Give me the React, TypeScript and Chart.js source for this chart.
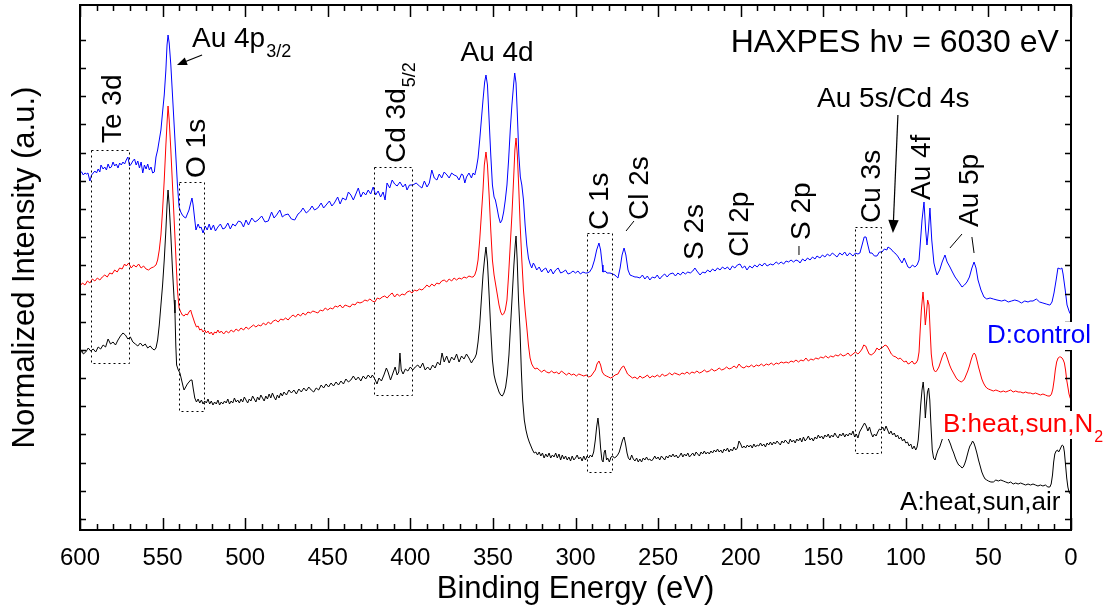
import React, { useEffect, useRef } from "react";
import { Chart, registerables } from "chart.js";

Chart.register(...registerables);

// Binding energy (eV) / normalized intensity (offset, arbitrary units)
const SERIES_D_CONTROL: [number, number][] = [
  [600,359],[599,358],[598,355],[597,357],[596,356],[595.2,357],[594,349],[593,355],[592,357],[591,359],
  [590,357],[589,361],[588,358],[587.3,365],[586,361],[585,363],[584,360],[583,366],[582,362],[581,363],
  [580,368],[579,364],[578,366],[577,362],[576,367],[575,365],[574,368],[573,366],[572,370],[571,373],
  [570,364],[569,366],[568,369],[567,371],[566,365],[565,369],[564,362],[563,368],[562,357],[561,365],
  [560,361],[559,366],[558,360],[557,363],[556,357],[555,358],[554,373],[553,380],[552,390],[551,400],
  [550,418],[549,435],[548,460],[547.3,485],[546.7,495],[546,487],[545,465],[544,435],[543,405],[542,375],
  [541,345],[540,323],[539,318],[538,315],[537,313],[536,312],[535,316],[534,320],[533,327],[532.2,332],
  [531.5,325],[530.5,310],[529.8,300],[528.5,306],[527.5,302],[526.7,303],[525.5,297],[524.2,304],[523,300],[521.8,306],
  [520.7,300],[519.2,305],[518,299],[516.5,303],[515,306],[513.5,301],[512.2,302],[510.5,307],[509,301],[507.5,306],
  [506,304],[504,309],[502.5,308],[501,303],[499.5,310],[498,305],[496,312],[494,308],[492.2,310],[490,314],
  [488,308],[486,309],[484,318],[482.5,312],[481,315],[479,320],[477.5,313],[476,315],[474,316],[472,311],
  [470,310],[468,316],[466.5,318],[465,322],[463,317],[461,320],[459.5,324],[458,320],[456,322],[454,327],
  [452.5,322],[451,325],[449,329],[447.5,324],[446,327],[444,333],[442.5,326],[441,332],[439,330],[437.5,338],
  [436,335],[434.5,330],[433,336],[431.5,342],[430,333],[428.5,338],[427,335],[425.5,340],[424,336],[422.5,343],
  [421,335],[419.5,339],[418,333],[416.5,338],[415.3,330],[414.1,347],[412.5,342],[411,350],[409.5,346],[408,344],
  [406.3,348],[404.5,343],[403,346],[402,340],[400.5,345],[398.4,345],[396.5,347],[394.5,344],[393,342],[391.5,349],
  [389.9,343],[388.5,347],[387,360],[385.5,352],[383.9,350],[382.5,356],[381,352],[379.5,358],[377.8,355],[376.5,352],
  [375,357],[373.5,355],[372,354],[370.5,350],[369,356],[368.1,355],[367,347],[366,353],[364.5,357],[363,352],
  [362,357],[361,355],[360,362],[359,372],[358,390],[357,410],[356,430],[355,448],[354.2,455],[353.3,445],
  [352.3,410],[351.3,375],[350.3,345],[349.3,333],[348.5,330],[347.5,322],[346.5,313],[345.5,307],[344.5,310],[343.5,318],
  [342.5,330],[341.5,345],[340.5,370],[339.5,400],[338.5,425],[337.5,445],[336.8,457],[336,447],[335.2,415],[334.3,375],
  [333.4,353],[332.5,345],[331.5,330],[330.5,305],[329.5,285],[328.5,272],[327.5,266],[326.5,262],[325.5,267],[324.5,264],
  [323.5,260],[322,263],[320.5,258],[319.7,260],[318,262],[316.5,257],[315,261],[313.5,256],[312,260],[310.5,262],
  [309,257],[307.6,258],[306,260],[304.5,256],[303,257],[301.5,259],[300,257],[298.5,259],[297,256],[295.5,258],
  [294,257],[293,257],[291.5,258],[290,262],[288.5,270],[287.2,280],[285.8,287],[284.8,280],[283.8,265],[283.4,258],
  [282,259],[281,257],[279.1,257],[277.5,256],[276.1,255],[275,253],[274.3,252],[273,262],[271.8,275],[270.6,282],
  [269.5,275],[268.2,260],[267,255],[265.5,254],[264,253],[262.8,253],[261,252],[259.5,255],[258,251],[256.5,254],
  [255,250],[253.5,253],[251.9,252],[250.5,255],[249,251],[247.5,254],[246,256],[244.5,253],[243,256],[241,257],
  [239.5,254],[238,257],[236.5,255],[235,258],[233.5,256],[232,258],[230.5,257],[229,259],[227.7,262],[226.5,259],
  [224.6,255],[223,258],[221.5,257],[220,260],[218.5,258],[217,261],[215.5,259],[214,262],[212.5,260],[211,263],
  [209.5,261],[208,263],[206.5,260],[205,264],[203.5,262],[202,265],[200.4,266],[199,262],[197.5,264],[196.2,260],
  [194.5,264],[193,262],[191.5,265],[190,263],[188.5,266],[187,264],[185.5,267],[184,264],[182,266],[180.4,265],
  [178.5,268],[177,266],[175.5,268],[174,266],[172.5,269],[171,268],[169.5,270],[168,268],[166.5,270],[165,269],
  [164.1,267],[162.5,271],[161,269],[159.5,272],[158,270],[156.5,273],[155,271],[153.8,274],[152,272],[150.5,275],
  [149,273],[147.5,276],[146,274],[144.5,277],[143,275],[141.7,273],[140,277],[138.5,275],[137,278],[135.5,274],
  [134,277],[132,274],[130.5,277],[129,276],[127.8,277],[126.5,285],[125.2,293],[124.1,293],[123,285],[121.8,277],
  [120.5,277],[119,274],[117.5,274],[116,278],[114.4,278],[113,281],[111.5,280],[110.8,283],[109,281],[107.5,278],
  [106.6,277],[105,274],[103.5,270],[102.3,267],[101,272],[100,268],[98.7,263],[97.5,262],[96,265],[94.5,263],
  [93.2,265],[92,270],[91.4,283],[90.2,310],[89,328],[88,300],[87.2,285],[86.3,300],[85.4,322],[84.3,290],
  [83,267],[82,260],[81.1,255],[79.5,260],[78,268],[76.3,275],[75,268],[73.3,263],[71.8,258],[70.2,253],
  [68,248],[66,243],[64.5,245],[63,248],[61.5,253],[60,262],[58.7,268],[57.5,262],[56.3,250],[54.5,240],
  [52.7,233],[51,231],[49,232],[47,231],[44.8,230],[42,229],[40,230],[38,228],[36,229],[34,230],
  [32,229],[30,227],[28,229],[26,228],[24.8,229],[23,229],[21,231],[19,228],[17,227],[15,226],
  [13,225],[12.7,225],[11.5,228],[10.3,237],[9,250],[7.9,262],[6.5,261],[5.5,262],[4.8,256],[3.5,240],
  [2.4,225],[1,218],[0,215],
];

const SERIES_B_HEAT_SUN_N2: [number, number][] = [
  [600,244],[598.5,247],[597,245],[595.5,249],[594,247],[592.5,251],[591,249],[589.5,252],[588,250],[586.5,253],
  [585,255],[583.5,253],[582,257],[580.5,256],[579,260],[577.5,258],[576,262],[574.5,261],[573,266],[572,264],
  [570.5,267],[569,262],[567.5,265],[566,263],[564.5,266],[563,262],[561.5,264],[560,261],[558.5,260],[557,262],
  [555.5,263],[554,265],[553,270],[552,280],[551,295],[550,320],[549,350],[548,385],[547.2,410],[546.7,424],
  [546,410],[545,380],[544,345],[543,310],[542,275],[541,240],[540,222],[539,218],[538,215],[537,214],
  [536,216],[535,215],[534,218],[533,220],[532.5,217],[531.5,212],[530.5,207],[529.5,203],[528.5,204],[527.5,200],
  [526.5,201],[525.5,198],[524.5,200],[523.5,197],[522.5,199],[521.5,196],[520.5,198],[519.5,195],[518.5,198],[517.5,197],
  [516.5,200],[515.5,197],[514.5,199],[513,196],[511.5,199],[510,197],[508.5,200],[507,198],[505.5,201],[504,199],
  [502.5,202],[501,200],[499.5,203],[498,201],[496.5,203],[495,205],[493.5,203],[492,205],[490.5,204],[489,207],
  [487.5,205],[486,208],[484.5,206],[483,209],[481.5,210],[480,208],[478.5,211],[477,210],[475.5,212],[474,210],
  [472.5,213],[471,215],[469.5,213],[468,216],[466.5,214],[465,217],[463.5,215],[462,218],[460.5,217],[459,219],
  [457.5,218],[456,217],[454.5,220],[453,219],[451.5,222],[450,220],[448.5,222],[447,221],[445.5,224],[444,223],
  [442.5,225],[441,222],[439.5,225],[438,224],[436.5,223],[435,226],[433.5,225],[432,228],[430.5,227],[429,228],
  [427.5,230],[426,229],[424.5,231],[423,229],[421.5,228],[420,232],[418.5,231],[417,233],[415.5,234],[414,232],
  [412.5,235],[411,237],[409.5,233],[408,236],[406.5,234],[405,236],[403.5,235],[402,238],[400.5,239],[399,237],
  [397.5,240],[396,239],[394.5,241],[393,240],[391.5,242],[390,245],[388.5,243],[387,246],[385.5,244],[384,247],
  [382.5,246],[381,249],[379.5,250],[378,248],[376.5,251],[375,249],[373.5,252],[372,250],[370.5,252],[369,251],
  [367.5,253],[366,252],[364.5,254],[363,253],[362,253],[361,255],[360,260],[359,270],[358,290],[357,315],
  [356,340],[355.2,365],[354.2,378],[353.3,365],[352.3,335],[351.3,300],[350.3,270],[349.3,255],[348.3,245],[347.3,235],
  [346.3,225],[345.3,218],[344.4,215],[343.5,216],[342.5,220],[341.5,230],[340.5,255],[339.5,285],[338.5,315],[337.5,350],
  [336.7,380],[336,392],[335.2,375],[334.3,340],[333.5,305],[332.5,270],[331.5,240],[330.5,220],[329.5,203],[328.5,185],
  [327.5,172],[326.5,166],[325.5,163],[324.5,161],[323.3,162],[322,160],[320.5,158],[319,160],[317.5,158],[316,157],
  [314.5,159],[313,157],[311.5,158],[310,156],[308.5,159],[307,157],[305.5,155],[304,157],[302.5,155],[301,156],
  [299.5,154],[298,156],[296.5,155],[295,154],[293.5,155],[292,153],[290.5,154],[289.3,157],[288,160],[287,166],
  [285.8,169],[284.8,165],[283.8,158],[282.5,155],[281.3,154],[280,153],[278.8,152],[277.5,153],[276,155],[274.3,156],
  [273,160],[271.8,163],[270.8,164],[269.6,160],[268.5,156],[267,154],[265.5,152],[264,153],[262.5,151],[261,154],
  [259.5,152],[258,153],[256.5,155],[255,152],[253.5,154],[252,153],[250.5,155],[249,153],[247.5,156],[246,154],
  [244.5,155],[243,157],[241.5,155],[240,157],[238.5,156],[237,155],[235.5,157],[234,156],[232.5,158],[231,156],
  [229.5,158],[228,157],[226.5,159],[225,157],[223.5,158],[222,160],[220.5,158],[219,159],[217.5,161],[216,159],
  [214.5,160],[213,162],[211.5,160],[210,161],[208.5,163],[207,161],[205.5,162],[204,164],[202.5,162],[201,166],
  [199.5,163],[198,162],[196.5,164],[195,163],[193.5,165],[192,163],[190.5,165],[189,164],[187.5,166],[186,164],
  [184.5,166],[183,165],[181.5,167],[180,165],[178.5,167],[177,166],[175.5,168],[174,167],[172.5,168],[171,167],
  [169.5,169],[168,168],[166.5,170],[165,168],[163.5,170],[162,169],[160.5,172],[159,169],[157.5,171],[156,170],
  [154.5,172],[153,171],[151.5,173],[150,172],[148.5,174],[147,172],[145.5,174],[144,173],[142.5,175],[141,174],
  [139.5,176],[138,174],[136.5,175],[135,177],[133.5,174],[132,176],[130.5,178],[129,176],[127.8,178],[126.5,181],
  [125.5,185],[124.3,184],[123.3,180],[122.2,176],[121,175],[120,176],[118.8,178],[117.5,182],[116.2,180],[115,182],
  [113.8,183],[112.6,185],[111.4,184],[110,180],[108.8,176],[107.5,174],[106,173],[104.6,171],[103.4,172],[102.2,170],
  [101,168],[99.8,169],[98.6,166],[97.4,167],[96.2,169],[95,166],[93.8,167],[92.8,170],[92,178],[91.3,200],
  [90.6,220],[89.6,238],[88.8,222],[88.2,205],[87.6,215],[86.8,230],[86,225],[85.3,200],[84.6,176],[83.8,165],
  [83,160],[82,158],[81,160],[80,163],[79,168],[78,173],[77,177],[76.3,178],[75.5,175],[74.5,170],
  [73.5,165],[72.5,161],[71.5,158],[70.5,155],[69.5,152],[68.5,150],[67.5,149],[66.5,148],[65.5,149],[64.5,151],
  [63.5,155],[62.5,159],[61.5,164],[60.5,170],[59.5,175],[58.6,177],[57.8,175],[57,170],[56,163],[55,157],
  [54,151],[53,147],[52,144],[51,142],[50,141],[48.5,140],[47,139],[45.5,140],[44,139],[42.5,138],
  [41,139],[39.5,138],[38,139],[36.5,140],[35,138],[33.5,139],[32,138],[30.5,138],[29,137],[27.5,138],
  [26,137],[24.5,137],[23,136],[21.5,137],[20,136],[18.5,135],[17,136],[15.5,135],[14,134],[12.7,134],
  [11.8,136],[11,141],[10.2,150],[9.5,160],[8.7,168],[7.8,172],[7,173],[6.2,173],[5.4,172],[4.7,170],
  [4,167],[3.3,160],[2.6,150],[1.9,143],[1.2,136],[0.5,132],[0,130],
];

const SERIES_A_HEAT_SUN_AIR: [number, number][] = [
  [600,175],[599,180],[598,176],[596.5,178],[595,182],[593.5,179],[592,181],[590.5,178],[589,183],[587.5,181],
  [586,185],[584.5,183],[583,191],[581.5,186],[580,188],[578.5,185],[577,190],[575.5,194],[574,197],[572.5,195],
  [571,191],[569.5,193],[568,188],[566.5,186],[565,184],[563.5,187],[562,184],[560.5,186],[559,182],[557.5,184],
  [556,181],[555,180],[554,182],[553,190],[552,205],[551,225],[550,245],[549,270],[548,300],[547.3,325],
  [546.7,340],[546,325],[545,295],[544,260],[543,230],[542.5,217],[542,185],[541.5,165],[540.5,160],[539.5,157],
  [538.5,150],[537.5,143],[537,140],[536,143],[535,146],[534,148],[533,150],[532.2,150],[531.5,142],[530.5,132],
  [529.5,128],[528.5,131],[527.5,127],[526.5,130],[525.5,126],[524.5,129],[523.5,127],[522.5,131],[521.5,126],[520.5,129],
  [519.5,125],[518.5,128],[517.5,126],[516.5,130],[515.5,125],[514.5,128],[513.5,126],[512.5,129],[511.5,127],[510.5,131],
  [509.5,126],[508.5,129],[507.5,127],[506.5,132],[505.5,128],[504.5,130],[503.5,127],[502.5,131],[501.5,128],[500.5,133],
  [499.5,130],[498.5,127],[497.5,131],[496.5,129],[495.5,134],[494.5,131],[493.5,128],[492.5,133],[491.5,130],[490.5,135],
  [489.5,132],[488.5,129],[487.5,134],[486.5,131],[485.5,136],[484.5,132],[483.5,137],[482.5,133],[481.5,130],[480.5,135],
  [479.5,132],[478.5,137],[477.5,134],[476.5,138],[475,135],[473.5,140],[472,137],[470.5,140],[469,136],[467.5,141],
  [466,138],[464.5,142],[463,139],[461.5,143],[460,140],[458.5,138],[457,142],[455.5,140],[454,145],[452.5,142],
  [451,146],[449.5,143],[448,147],[446.5,144],[445,148],[443.5,145],[442,149],[440.5,146],[439,151],[437.5,148],
  [436,150],[434.5,154],[433,150],[431.5,153],[430,149],[428.5,154],[427,151],[425.5,155],[424,152],[423,155],
  [421.5,151],[420.2,146],[419,152],[417.5,149],[416,155],[414.5,162],[413.5,158],[412,150],[410.5,157],[409.2,163],
  [408,155],[407,158],[406.3,177],[405.5,160],[404.4,156],[403,161],[401.5,159],[400,163],[398.5,160],[397,163],
  [395.5,165],[394,162],[392.5,167],[391,160],[389.5,163],[388,160],[386.5,165],[385,162],[383.5,168],[382,165],
  [380.8,177],[379.5,168],[378,174],[376.5,167],[375,173],[373.5,170],[372,176],[370.5,168],[369,174],[367.5,171],
  [366,176],[364.5,172],[363,167],[362,170],[361,172],[360,176],[359,188],[358,205],[357,230],[356,255],
  [355,272],[354.2,283],[353.3,268],[352.3,235],[351.3,200],[350.3,170],[349.3,155],[348.3,148],[347.3,143],[346.3,138],
  [345.3,135],[344.3,134],[343.3,137],[342.3,143],[341.3,155],[340.3,175],[339.3,205],[338.3,235],[337.3,265],[336.5,285],
  [336,294],[335.3,270],[334.5,230],[333.6,200],[332.8,160],[332,130],[331,110],[330,100],[329,93],[328,88],
  [327,84],[326,80],[325,77],[324,78],[323,75],[322,78],[321,74],[320,77],[319,72],[318,76],
  [317,73],[316,77],[315,72],[314,75],[313,73],[312,77],[311,72],[310,76],[309,70],[308,75],
  [307,71],[306,74],[305,70],[304,73],[303,69],[302,74],[301,70],[300,72],[299,75],[298,71],
  [297,73],[296,69],[295,74],[294,70],[293,74],[292,72],[291,75],[290,73],[289,78],[288,90],
  [287.2,103],[286.4,112],[285.6,100],[284.8,82],[284,70],[283.3,68],[282.6,78],[282,80],[281.2,70],[280.5,72],
  [279.5,68],[278.5,73],[277.5,74],[276.5,72],[275.5,73],[274.5,75],[273.5,78],[272.5,84],[271.5,90],[270.6,93],
  [269.7,86],[268.8,77],[268,72],[267,70],[266,75],[265,71],[264,69],[263,72],[262,68],[261,71],
  [260,68],[259,72],[258,70],[257,73],[256,70],[255,71],[254,69],[253,71],[252,74],[251,71],
  [250,73],[249,70],[248,74],[247,72],[246,70],[245,74],[244,72],[243,75],[242,73],[241,76],
  [240,73],[239,75],[238,72],[237,74],[236,77],[235,73],[234,76],[233,74],[232,77],[231,73],
  [230,75],[229,77],[228,74],[227,78],[226,76],[225,74],[224,78],[223,76],[222,79],[221,76],
  [220,78],[219,76],[218,79],[217,77],[216,80],[215,78],[214,81],[213,78],[212,80],[211,77],
  [210,81],[209,79],[208,82],[207,78],[206,81],[205,79],[204,83],[203,80],[202,82],[201,89],
  [200,86],[199,82],[198,84],[197,82],[196,85],[195,83],[194,85],[193,82],[192,86],[191,83],
  [190,85],[189,84],[188,87],[187,84],[186,86],[185,83],[184,87],[183,85],[182,88],[181,85],
  [180,88],[179,86],[178,89],[177,87],[176,85],[175,89],[174,87],[173,90],[172,88],[171,86],
  [170,91],[169,88],[168,90],[167,87],[166,91],[165,89],[164,92],[163,88],[162,93],[161,89],
  [160,91],[159,94],[158,90],[157,92],[156,89],[155,93],[154,91],[153,95],[152,92],[151,94],
  [150,91],[149,95],[148,93],[147,96],[146,92],[145,95],[144,93],[143,97],[142,94],[141,92],
  [140,96],[139,94],[138,97],[137,93],[136,96],[135,94],[134,97],[133,95],[132,99],[131,93],
  [130,96],[129,92],[128,98],[127,101],[126,104],[125,107],[124,104],[123,99],[122,103],[121,97],
  [120,93],[119,96],[118,94],[117,98],[116,101],[115,100],[114,103],[113,99],[112,104],[111,100],
  [110,96],[109,99],[108,95],[107,97],[106,93],[105,95],[104,91],[103,93],[102,89],[101,91],
  [100,87],[99,88],[98,84],[97,86],[96,81],[95,84],[94,80],[93.2,83],[92.5,90],[91.8,105],
  [91,125],[90.2,140],[89.5,148],[88.8,135],[88.2,112],[87.6,125],[86.9,138],[86.2,142],[85.5,130],[84.8,105],
  [84,80],[83.2,72],[82.3,70],[81.5,75],[80.5,80],[79.5,83],[78.5,88],[77.5,93],[76.5,96],[75.7,97],
  [75,94],[74,90],[73,86],[72,81],[71,77],[70,72],[69,68],[68,65],[67,64],[66,62],
  [65.2,63],[64.4,66],[63.6,70],[62.8,75],[62,80],[61.2,84],[60.4,86],[59.6,89],[58.8,87],[58,83],
  [57,77],[56,70],[55,64],[54,58],[53,54],[52,51],[51,50],[50,49],[48.5,48],[47,48],
  [45.5,50],[44,49],[42.5,50],[41,49],[39.5,48],[38,47],[36.5,48],[35,46],[33.5,47],[32,46],
  [30.5,47],[29,46],[27.5,45],[26,46],[24.5,45],[23,46],[21.5,45],[20,44],[18.5,45],[17,44],
  [15.5,45],[14,43],[12.8,43],[12,46],[11.2,55],[10.5,68],[9.8,76],[9,79],[8.2,80],[7.5,78],
  [6.8,80],[6,83],[5.3,85],[4.6,84],[4,78],[3.3,65],[2.6,52],[1.9,43],[1.2,38],[0.5,36],[0,35],
];

const SERIES_NAMES = ["D:control", "B:heat,sun,N", "A:heat,sun,air"];
const SERIES_COLORS = ["#0000ff", "#ff0000", "#000000"];

const X_MIN = 0;
const X_MAX = 600;
const X_MAJOR_STEP = 50;
const X_MINOR_STEP = 10;
const Y_MIN = 0;
const Y_MAX = 525;
const Y_TICK_FIRST = 11;
const Y_TICK_STEP = 28.18;
const Y_TICK_COUNT = 18;

// Regions marked with dotted boxes: [from eV, to eV, top, bottom]
const BOX_REGIONS: [number, number, number, number][] = [
  [593.3, 570.3, 380, 167], // Te 3d
  [540.1, 524.9, 348, 119], // O 1s
  [422, 399, 363, 135], // Cd 3d5/2
  [293, 278, 297, 58], // C 1s
  [130.8, 115, 303, 77], // Cu 3s
];

const FONT = "'Liberation Sans', Arial, Helvetica, sans-serif";

const annotationPlugin = {
  id: "xpsAnnotations",
  afterDatasetsDraw(chart: any) {
    const { ctx, chartArea: a, scales } = chart;
    const xs = scales.x;
    const ys = scales.y;
    const X = (v: number) => xs.getPixelForValue(v);
    const Y = (v: number) => ys.getPixelForValue(v);
    ctx.save();

    // dotted boxes
    ctx.strokeStyle = "#000";
    ctx.lineWidth = 1;
    ctx.setLineDash([2, 3]);
    for (const [e1, e2, t, b] of BOX_REGIONS) {
      const x1 = Math.round(X(e1)) + 0.5;
      const x2 = Math.round(X(e2)) + 0.5;
      const y1 = Math.round(Y(t)) + 0.5;
      const y2 = Math.round(Y(b)) + 0.5;
      ctx.strokeRect(x1, y1, x2 - x1, y2 - y1);
    }
    ctx.setLineDash([]);

    // frame
    ctx.lineWidth = 2;
    ctx.strokeStyle = "#000";
    ctx.strokeRect(a.left, a.top, a.right - a.left, a.bottom - a.top);

    // ticks (inward)
    ctx.lineWidth = 1.5;
    ctx.beginPath();
    for (let v = X_MIN; v <= X_MAX + 1e-6; v += X_MINOR_STEP) {
      const px = Math.round(X(v)) + 0.5;
      const major = Math.abs(v % X_MAJOR_STEP) < 1e-6;
      const len = major ? 12 : 6;
      ctx.moveTo(px, a.bottom);
      ctx.lineTo(px, a.bottom - len);
      ctx.moveTo(px, a.top);
      ctx.lineTo(px, a.top + len);
    }
    for (let k = 0; k < Y_TICK_COUNT; k++) {
      const py = Math.round(Y(Y_TICK_FIRST + k * Y_TICK_STEP)) + 0.5;
      ctx.moveTo(a.left, py);
      ctx.lineTo(a.left + 6, py);
      ctx.moveTo(a.right, py);
      ctx.lineTo(a.right - 6, py);
    }
    ctx.stroke();

    ctx.fillStyle = "#000";
    ctx.textBaseline = "alphabetic";
    const labelFont = `28px ${FONT}`;
    const subFont = `18px ${FONT}`;

    const rot = (text: string, e: number, h: number, sub?: string) => {
      ctx.save();
      ctx.translate(X(e), Y(h));
      ctx.rotate(-Math.PI / 2);
      ctx.font = labelFont;
      ctx.textAlign = "left";
      ctx.fillText(text, 0, 0);
      if (sub) {
        const w = ctx.measureText(text).width;
        ctx.font = subFont;
        ctx.fillText(sub, w + 1, 10);
      }
      ctx.restore();
    };
    const hor = (text: string, e: number, h: number, align: CanvasTextAlign, font: string, color = "#000", sub?: string, subF?: string, subDy = 10) => {
      ctx.save();
      ctx.font = font;
      ctx.fillStyle = color;
      ctx.textAlign = align;
      ctx.fillText(text, X(e), Y(h));
      if (sub) {
        const w = ctx.measureText(text).width;
        const start = align === "center" ? X(e) + w / 2 : align === "right" ? X(e) : X(e) + w;
        ctx.font = subF || subFont;
        ctx.textAlign = "left";
        ctx.fillText(sub, start + 1, Y(h) + subDy);
      }
      ctx.restore();
    };
    const line = (e1: number, h1: number, e2: number, h2: number) => {
      ctx.beginPath();
      ctx.lineWidth = 1;
      ctx.moveTo(X(e1), Y(h1));
      ctx.lineTo(X(e2), Y(h2));
      ctx.stroke();
    };
    const arrow = (e1: number, h1: number, e2: number, h2: number, head: number) => {
      const x1 = X(e1), y1 = Y(h1), x2 = X(e2), y2 = Y(h2);
      const ang = Math.atan2(y2 - y1, x2 - x1);
      ctx.beginPath();
      ctx.lineWidth = 1.2;
      ctx.moveTo(x1, y1);
      ctx.lineTo(x2 - Math.cos(ang) * head * 0.8, y2 - Math.sin(ang) * head * 0.8);
      ctx.stroke();
      ctx.beginPath();
      ctx.moveTo(x2, y2);
      ctx.lineTo(x2 - head * Math.cos(ang) + (head * 0.4) * Math.sin(ang), y2 - head * Math.sin(ang) - (head * 0.4) * Math.cos(ang));
      ctx.lineTo(x2 - head * Math.cos(ang) - (head * 0.4) * Math.sin(ang), y2 - head * Math.sin(ang) + (head * 0.4) * Math.cos(ang));
      ctx.closePath();
      ctx.fill();
    };

    // peak labels
    hor("Au 4p", 532.2, 483, "left", labelFont, "#000", "3/2", subFont, 10);
    arrow(526.1, 475, 541.3, 465, 10);
    rot("Te 3d", 575.2, 387);
    rot("O 1s", 524.3, 352);
    rot("Cd 3d", 403.2, 367, "5/2");
    hor("Au 4d", 347.5, 469, "center", labelFont);
    rot("C 1s", 280.3, 300);
    rot("Cl 2s", 256.1, 310);
    line(264.6, 309, 269.4, 299);
    rot("S 2s", 222.8, 270);
    rot("Cl 2p", 195.6, 273);
    rot("S 2p", 158, 290);
    line(164.7, 284, 164.7, 275);
    rot("Cu 3s", 115.6, 307);
    rot("Au 4f", 85.4, 330);
    rot("Au 5p", 56.3, 303);
    line(66, 296, 73.3, 282);
    line(60, 293, 58.7, 277);
    hor("Au 5s/Cd 4s", 153.8, 423, "left", labelFont);
    arrow(104.8, 415, 107.8, 297, 13);
    hor("HAXPES h\u03bd = 6030 eV", 7.3, 478, "right", `32px ${FONT}`);

    // series labels (with white backing, over the frame)
    const legendFont = `26px ${FONT}`;
    const legends: [string, number, number, string | undefined][] = [
      [SERIES_NAMES[0], 50.9, 187, undefined],
      [SERIES_NAMES[1], 77.5, 98, "2"],
      [SERIES_NAMES[2], 103.5, 20, undefined],
    ];
    legends.forEach(([text, e, h, sub], i) => {
      ctx.font = legendFont;
      const w = ctx.measureText(text).width + (sub ? 10 : 0);
      const x0 = X(e);
      const y0 = Y(h);
      ctx.fillStyle = "#fff";
      if (i < 2) ctx.fillRect(x0 - 2, y0 - 21, w + 5, 28);
      hor(text, e, h, "left", legendFont, SERIES_COLORS[i], sub, `16px ${FONT}`, 10);
    });

    ctx.restore();
  },
};

export default function App() {
  const canvasRef = useRef<HTMLCanvasElement | null>(null);

  useEffect(() => {
    if (!canvasRef.current) return;
    const all = [SERIES_D_CONTROL, SERIES_B_HEAT_SUN_N2, SERIES_A_HEAT_SUN_AIR];
    const chart = new Chart(canvasRef.current, {
      type: "line",
      data: {
        datasets: all.map((s, i) => ({
          label: SERIES_NAMES[i],
          data: s.map(([x, y]) => ({ x, y })),
          borderColor: SERIES_COLORS[i],
          borderWidth: 1,
          pointRadius: 0,
          tension: 0,
          fill: false,
        })),
      },
      options: {
        responsive: false,
        animation: false,
        devicePixelRatio: 1,
        layout: { padding: { top: 5, right: 41, bottom: 0, left: 0 } },
        plugins: { legend: { display: false }, tooltip: { enabled: false } },
        scales: {
          x: {
            type: "linear",
            reverse: true,
            min: X_MIN,
            max: X_MAX,
            ticks: {
              stepSize: X_MAJOR_STEP,
              autoSkip: false,
              maxRotation: 0,
              padding: 14,
              color: "#000",
              font: { size: 24, family: FONT },
            },
            grid: { display: false, drawTicks: false },
            border: { display: false },
            title: {
              display: true,
              text: "Binding Energy (eV)",
              color: "#000",
              font: { size: 31, family: FONT },
              padding: { top: 0, bottom: 1 },
            },
            afterFit: (s: any) => {
              s.height = 79;
            },
          },
          y: {
            type: "linear",
            min: Y_MIN,
            max: Y_MAX,
            ticks: { display: false },
            grid: { display: false, drawTicks: false },
            border: { display: false },
            title: {
              display: true,
              text: "Normalized Intensity (a.u.)",
              color: "#000",
              font: { size: 31, family: FONT },
              padding: { top: 7, bottom: 0 },
            },
            afterFit: (s: any) => {
              s.width = 80;
            },
          },
        },
      },
      plugins: [annotationPlugin],
    });
    return () => chart.destroy();
  }, []);

  return (
    <div style={{ position: "fixed", left: 0, top: 0, width: 1112, height: 609, background: "#fff" }}>
      <canvas ref={canvasRef} width={1112} height={609} />
    </div>
  );
}
